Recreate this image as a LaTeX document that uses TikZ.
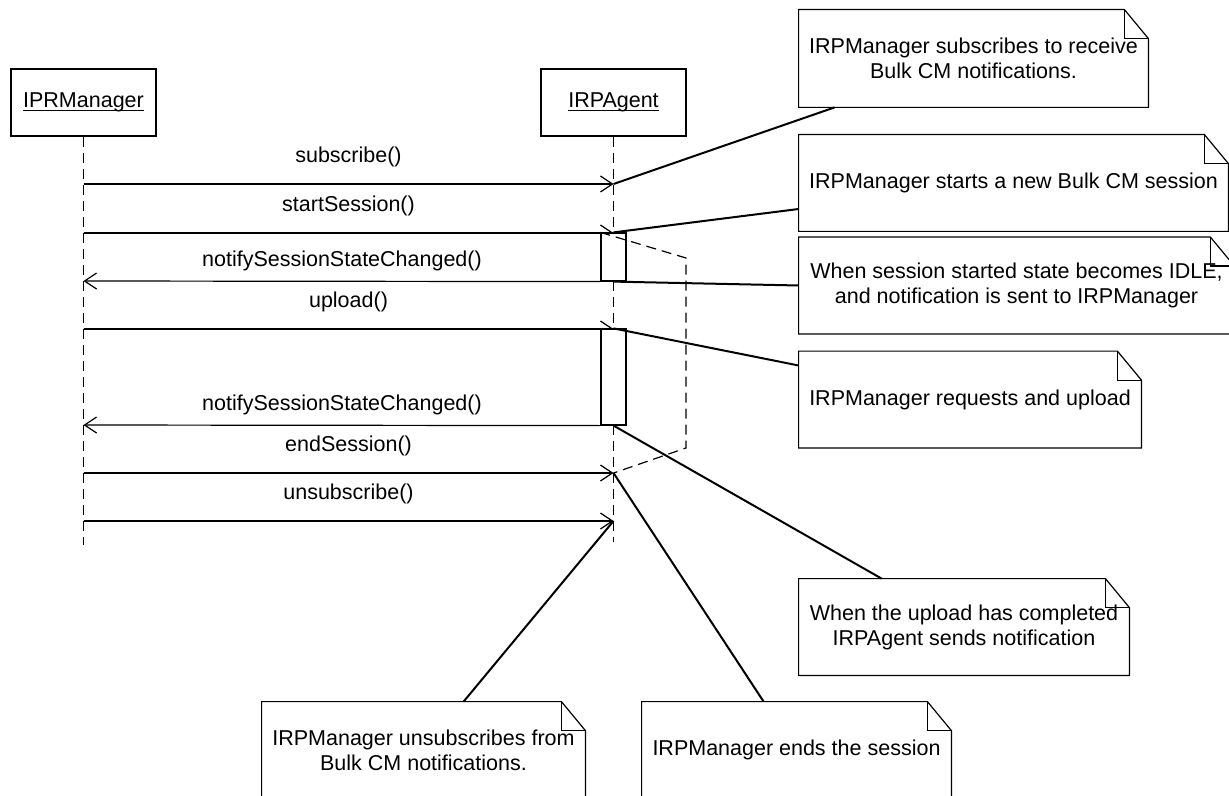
\documentclass[tikz,border=0pt]{standalone}
\usepackage{fontspec}
\setmainfont{Liberation Sans}
\usetikzlibrary{arrows.meta,calc}

\tikzset{
  lifehead/.style={draw,line width=0.6pt,minimum width=72.5pt,minimum height=33.5pt,inner sep=0pt},
  lifeline/.style={line width=0.6pt,dash pattern=on 5pt off 3pt},
  msg/.style={line width=0.6pt,-{Straight Barb[length=6pt,width=8pt]}},
  msglabel/.style={above=5pt},
  actbox/.style={draw,line width=0.6pt,fill=white,minimum width=12.5pt,inner sep=0pt},
  note/.style={align=center,inner sep=0pt,minimum height=48pt},
  noteline/.style={line width=0.6pt},
  notelink/.style={line width=1pt},
}

\newcommand{\headname}[1]{\underline{\raisebox{0pt}[\height][0pt]{#1}}}
\newcommand{\foldnote}[1]{%
  \draw[noteline] (#1.north west) -- ($(#1.north east)+(-24,0)$)
    -- ($(#1.north east)+(0,29)$) -- (#1.south east) -- (#1.south west) -- cycle;
  \draw[noteline] ($(#1.north east)+(-24,0)$) |- ($(#1.north east)+(0,29)$);}

\begin{document}
\begin{tikzpicture}[x=0.5pt,y=-0.5pt,font=\fontsize{10.75}{12.5}\selectfont]
    \useasboundingbox (0,0) rectangle (1229,796);

    \node[lifehead] (mgr) at (83.5,102.5) {\headname{IPRManager}};
    \node[lifehead] (agt) at (613.5,102.5) {\headname{IRPAgent}};
    \coordinate (mgr-end) at (83.5,545);
    \coordinate (agt-end) at (613.5,542);
    \draw[lifeline] (mgr) -- (mgr-end);
    \draw[lifeline] (agt) -- (agt-end);

    \foreach \n/\y in {sub/184,start/233,notA/281,up/329,notB/425,end/473,unsub/521}{
      \coordinate (m-\n) at (83.5,\y);
      \coordinate (a-\n) at (613.5,\y);}

    \draw[msg] (m-sub) -- node[msglabel] {subscribe()} (a-sub);
    \draw[msg] (m-start) -- node[msglabel] {startSession()} (a-start);
    \draw[msg] (m-up) -- node[msglabel] {upload()} (a-up);
    \draw[msg] (m-end) -- node[msglabel] {endSession()} (a-end);
    \draw[msg] (m-unsub) -- node[msglabel] {unsubscribe()} (a-unsub);

    \node[actbox,minimum height=24pt] (act1) at (613.5,257) {};
    \node[actbox,minimum height=48pt] (act2) at (613.5,377) {};
    \draw[msg] (act1.south west) -- node[above=1.5pt] {notifySessionStateChanged()} (m-notA);
    \draw[msg] (act2.south west) -- node[above=1.5pt] {notifySessionStateChanged()} (m-notB);

    \coordinate (grp-a) at (686,258);
    \coordinate (grp-b) at (686,448);
    \draw[lifeline] (act1.north west) -- (grp-a) -- (grp-b) -- (a-end);

    \node[note,minimum width=174.5pt,minimum height=48.5pt] (n1) at (973.5,58.5)
      {IRPManager subscribes to receive\\Bulk CM notifications.};
    \node[note,minimum width=214.5pt] (n2) at (1013.5,183)
      {IRPManager starts a new Bulk CM session};
    \node[note,minimum width=217.5pt] (n3) at (1016.5,285.5)
      {When session started state becomes IDLE,\\and notification is sent to IRPManager};
    \node[note,minimum width=171pt] (n4) at (970,399.5)
      {IRPManager requests and upload};
    \node[note,minimum width=165pt] (n5) at (964,627)
      {When the upload has completed\\IRPAgent sends notification};
    \node[note,minimum width=161.5pt] (n6) at (423.5,750)
      {IRPManager unsubscribes from\\Bulk CM notifications.};
    \node[note,minimum width=154.5pt] (n7) at (796.5,750)
      {IRPManager ends the session};
    \foldnote{n1} \foldnote{n2} \foldnote{n3} \foldnote{n4}
    \foldnote{n5} \foldnote{n6} \foldnote{n7}

    \draw[notelink] (a-sub) -- ($(n1.south west)+(36,0)$);
    \draw[notelink] (act1.north) -- ($(n2.west)+(0,26)$);
    \draw[notelink] (act1.south) -- (n3.west);
    \draw[notelink] (act2.north) -- ($(n4.west)+(0,-34)$);
    \draw[notelink] (act2.south) -- ($(n5.north west)+(83,0)$);
    \draw[notelink] (a-end) -- ($(n7.north west)+(122,0)$);
    \draw[notelink] (a-unsub) -- ($(n6.north west)+(202,0)$);
\end{tikzpicture}
\end{document}
